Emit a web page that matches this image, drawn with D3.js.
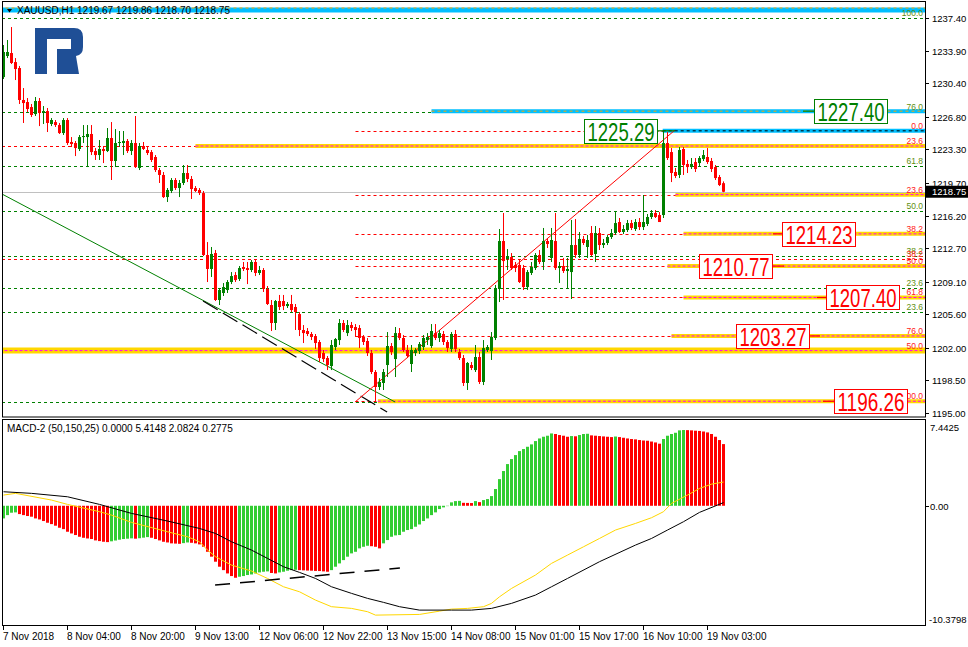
<!DOCTYPE html>
<html><head><meta charset="utf-8">
<script src="https://cdn.jsdelivr.net/npm/d3@7"></script>
<style>body{margin:0;background:#fff}svg{display:block}text{font-family:"Liberation Sans",Arial,sans-serif}</style>
</head><body><svg id="c" width="968" height="647"></svg>
<script>
// ---------------- DATA ----------------
const symbolTitle = "XAUUSD,H1  1219.67 1219.86 1218.70 1218.75";
const macdTitle = "MACD-2 (50,150,25) 0.0000 5.4148 2.0824 0.2775";
const xTickBars = [0,16,32,48,64,80,96,112,128,144,160,176];
const xTickLabels = ["7 Nov 2018","8 Nov 04:00","8 Nov 20:00","9 Nov 13:00","12 Nov 06:00","12 Nov 22:00","13 Nov 15:00","14 Nov 08:00","15 Nov 01:00","15 Nov 17:00","16 Nov 10:00","19 Nov 03:00"];
const priceTicks = [1237.40,1233.90,1230.40,1226.80,1223.30,1219.70,1216.20,1212.70,1209.10,1205.60,1202.00,1198.50,1195.00];
const macdTicks = [7.4425,0,-10.3798];
const macdTickLabels = ["7.4425","0.00","-10.3798"];
const lastPrice = 1218.75;

const opens = [
1231.06,1233.32,1233.64,1232.67,1232.03,1228.60,1228.38,1227.84,1227.09,1228.49,
1227.20,1227.41,1226.02,1226.23,1225.91,1225.05,1226.45,1224.09,1223.98,1223.34,
1224.62,1224.62,1224.95,1223.12,1222.69,1223.34,1223.12,1224.52,1222.05,1223.98,
1223.98,1224.20,1223.12,1223.98,1221.30,1223.66,1223.23,1223.01,1222.48,1221.08,
1220.55,1218.18,1218.83,1220.01,1219.15,1219.69,1220.76,1220.12,1219.15,1218.94,
1218.61,1211.96,1210.46,1212.17,1207.13,1207.88,1208.20,1209.06,1209.81,1209.38,
1210.67,1210.56,1210.35,1211.21,1210.03,1210.35,1208.31,1206.59,1204.66,1207.02,
1207.02,1206.48,1206.70,1206.38,1205.62,1203.91,1203.80,1203.48,1203.26,1202.62,
1201.44,1200.90,1200.04,1202.08,1202.83,1204.66,1203.58,1204.44,1204.23,1204.12,
1203.16,1202.73,1201.44,1199.40,1197.79,1198.22,1200.15,1202.19,1200.79,1203.58,
1203.05,1201.76,1200.26,1201.44,1201.65,1202.08,1202.83,1202.19,1203.58,1203.05,
1203.48,1202.62,1201.87,1203.48,1201.55,1200.90,1198.22,1200.15,1199.61,1201.01,
1198.33,1201.76,1201.65,1203.05,1208.31,1213.46,1211.53,1211.74,1210.89,1210.89,
1210.56,1208.52,1210.03,1210.56,1211.96,1211.21,1213.46,1211.64,1213.46,1210.56,
1210.78,1210.24,1210.13,1213.03,1211.96,1213.68,1212.82,1214.32,1212.07,1214.32,
1213.03,1213.25,1213.89,1214.32,1215.50,1214.43,1214.64,1215.39,1214.75,1215.50,
1214.96,1215.29,1216.04,1216.47,1216.25,1216.25,1223.98,1223.01,1220.87,1220.55,
1223.34,1221.73,1221.40,1221.94,1221.83,1222.26,1222.48,1222.05,1221.40,1220.33,
1219.67];
const highs = [
1234.50,1235.04,1236.43,1233.10,1232.25,1229.88,1228.81,1228.17,1228.92,1228.81,
1227.95,1227.74,1226.66,1226.45,1226.13,1226.66,1226.66,1224.62,1224.20,1224.84,
1225.91,1225.91,1225.91,1223.44,1224.30,1223.66,1225.59,1226.23,1225.48,1225.27,
1225.27,1224.41,1224.30,1226.88,1223.98,1224.09,1223.55,1223.23,1222.69,1221.30,
1220.87,1219.15,1220.22,1220.22,1220.01,1221.62,1221.62,1220.44,1219.36,1219.15,
1218.83,1213.35,1212.82,1212.50,1208.42,1208.95,1209.27,1210.13,1210.13,1210.78,
1211.21,1211.21,1211.42,1211.42,1210.78,1210.56,1208.63,1207.13,1207.13,1207.67,
1207.67,1206.91,1207.67,1206.70,1205.84,1204.44,1204.12,1203.69,1203.48,1202.83,
1201.76,1201.12,1202.83,1203.05,1205.09,1204.98,1204.98,1204.77,1204.55,1204.44,
1203.37,1203.05,1201.76,1199.61,1198.75,1199.72,1203.69,1202.51,1204.23,1204.12,
1203.37,1202.30,1202.30,1201.97,1202.62,1203.37,1203.58,1204.55,1204.55,1203.91,
1203.80,1202.83,1203.69,1203.91,1201.87,1201.22,1200.47,1200.47,1202.30,1201.55,
1202.83,1202.30,1203.69,1208.74,1214.75,1216.47,1212.60,1212.17,1211.21,1211.42,
1210.89,1210.35,1211.21,1212.17,1212.50,1214.86,1213.78,1214.86,1216.47,1211.21,
1211.64,1211.64,1215.72,1215.82,1214.43,1214.00,1214.11,1215.07,1215.07,1214.86,
1213.68,1214.11,1214.75,1216.57,1215.93,1215.18,1215.72,1215.72,1215.82,1215.93,
1218.40,1216.36,1216.79,1216.79,1216.57,1225.29,1225.16,1223.44,1221.30,1223.55,
1223.55,1222.16,1222.37,1222.37,1222.58,1223.23,1223.44,1222.37,1221.62,1220.55,
1219.86];
const lows = [
1230.85,1233.10,1232.46,1230.74,1228.17,1226.13,1227.31,1226.77,1226.88,1225.80,
1226.02,1225.16,1225.80,1225.70,1224.95,1224.84,1223.77,1223.55,1222.58,1223.12,
1223.98,1221.40,1222.69,1222.16,1222.16,1221.83,1223.01,1220.01,1221.40,1223.55,
1222.69,1222.91,1222.69,1221.30,1221.08,1223.23,1222.69,1221.94,1220.87,1219.69,
1218.08,1217.65,1218.61,1218.94,1218.18,1219.47,1219.79,1217.97,1218.72,1218.40,
1211.85,1209.06,1209.60,1207.02,1206.59,1207.56,1207.88,1208.84,1209.06,1209.17,
1210.24,1208.84,1210.13,1209.70,1209.81,1207.99,1206.59,1203.80,1203.91,1206.05,
1206.05,1206.27,1205.84,1203.91,1203.26,1202.51,1203.26,1202.83,1201.87,1200.47,
1200.47,1199.61,1199.61,1201.76,1202.30,1203.69,1203.26,1203.80,1203.16,1201.97,
1202.30,1201.12,1199.18,1196.26,1197.47,1197.47,1198.86,1201.22,1198.86,1202.83,
1201.55,1200.90,1199.40,1201.12,1201.33,1201.76,1202.30,1201.97,1202.83,1202.62,
1202.30,1201.55,1201.55,1201.55,1200.69,1197.90,1197.47,1199.61,1199.40,1198.11,
1198.00,1201.55,1200.69,1202.83,1206.91,1207.13,1210.35,1210.35,1210.13,1208.95,
1208.20,1208.20,1209.81,1210.35,1210.99,1210.35,1212.71,1211.21,1210.35,1208.95,
1210.03,1208.42,1207.24,1211.64,1211.64,1213.03,1211.64,1211.85,1211.21,1212.50,
1212.71,1213.03,1213.68,1214.11,1214.32,1214.21,1214.43,1214.64,1214.54,1214.64,
1214.64,1215.07,1215.82,1215.93,1215.50,1215.93,1222.16,1219.79,1220.22,1220.22,
1220.55,1220.76,1221.19,1220.87,1221.51,1222.05,1221.73,1220.87,1220.01,1219.36,
1218.70];
const closes = [
1233.75,1233.75,1232.57,1231.92,1228.60,1228.27,1227.63,1226.99,1228.49,1227.20,
1227.41,1226.13,1226.45,1225.91,1225.05,1226.45,1223.98,1223.87,1223.44,1224.62,
1224.73,1224.95,1223.01,1222.69,1223.34,1223.12,1224.52,1222.05,1223.98,1224.09,
1224.20,1223.12,1223.98,1221.40,1223.66,1223.34,1222.91,1222.16,1221.08,1220.55,
1218.18,1218.94,1220.01,1219.15,1219.69,1220.76,1220.12,1219.04,1218.83,1218.61,
1211.96,1210.46,1212.07,1207.13,1208.20,1208.52,1209.06,1209.70,1209.27,1210.56,
1210.46,1210.35,1211.21,1210.03,1210.35,1208.31,1206.70,1204.66,1207.02,1206.38,
1206.48,1206.70,1206.05,1205.84,1203.91,1203.58,1203.48,1203.16,1202.51,1200.90,
1200.79,1200.15,1202.30,1202.94,1204.66,1203.91,1204.44,1204.12,1203.91,1203.05,
1202.62,1201.44,1199.40,1197.79,1198.33,1199.40,1202.19,1201.55,1203.58,1203.05,
1201.76,1201.12,1201.76,1201.76,1202.40,1203.05,1203.16,1203.80,1203.05,1203.58,
1202.62,1201.97,1203.48,1201.87,1200.90,1198.22,1200.37,1199.83,1201.01,1198.33,
1201.97,1202.08,1203.16,1208.42,1213.46,1211.31,1211.85,1210.56,1210.56,1209.06,
1208.52,1210.13,1210.67,1211.96,1211.21,1213.46,1213.14,1213.57,1210.56,1210.78,
1210.24,1210.46,1213.03,1211.96,1213.68,1213.25,1213.57,1211.96,1214.32,1213.03,
1213.25,1213.89,1214.32,1215.39,1214.43,1214.75,1215.39,1214.86,1215.50,1214.96,
1215.50,1216.04,1216.47,1216.04,1215.50,1223.98,1222.37,1220.76,1220.44,1223.23,
1221.62,1221.40,1221.73,1221.19,1222.37,1222.69,1221.94,1221.19,1220.22,1219.47,
1218.75];

const macdHist = [
-1.11,-0.82,-0.61,-0.58,
-0.73,-0.82,-0.90,-0.96,-1.11,-1.20,-1.34,-1.49,-1.61,-1.75,-1.93,-2.05,-2.28,-2.43,-2.57,-2.72,-2.81,-2.87,-2.92,-3.04,-3.10,-3.16,-3.19,
-3.12,-3.05,-2.98,-2.92,-2.89,-2.86,
-2.89,
-2.85,-2.80,-2.75,
-2.81,-2.92,-3.04,-3.16,-3.22,-3.30,-3.32,-3.34,
-3.28,-3.22,
-3.25,-3.30,-3.39,-3.60,-4.04,-4.47,-4.91,-5.35,-5.65,-5.94,-6.17,-6.32,
-6.23,-6.17,-6.08,-6.03,-5.94,-5.85,-5.79,-5.76,
-5.90,-5.94,
-5.85,-5.79,-5.70,-5.65,-5.62,
-5.65,-5.67,-5.69,-5.70,-5.72,-5.73,-5.76,-5.79,
-5.65,-5.35,-5.06,-4.77,-4.47,-4.18,-4.04,-3.74,-3.60,-3.51,
-3.55,-3.60,-3.74,
-3.30,-3.01,-2.72,-2.60,
-2.57,-2.28,-2.13,-2.05,-1.84,-1.64,-1.34,-1.11,-0.82,-0.58,-0.29,-0.14,-0.03,
0.30,0.41,0.43,
0.26,0.25,0.24,
0.41,0.32,
0.50,0.59,0.85,1.47,2.34,3.05,3.66,4.10,4.45,4.80,4.98,5.18,5.39,5.68,5.91,6.06,6.15,6.35,
6.30,6.21,6.15,6.06,
6.12,6.10,
6.21,6.30,6.32,
6.18,6.15,6.12,6.09,6.06,6.03,
6.08,
6.03,5.97,5.91,5.86,5.83,5.77,5.73,5.71,5.64,5.56,5.45,
5.86,6.15,6.30,6.41,6.62,6.65,
6.64,6.62,6.59,6.57,6.52,6.44,6.30,6.06,5.77,5.4148];

const signalBars = [0,3,12,16,24,27,32,41,46,49,51,53,57,62,66,70,74,78,82,87,91,93,104,109,112,116,120,122,124,127,133,137,141,145,149,153,158,162,165,167,171,174,177,180];
const signalValues = [0.94,1.09,0.50,0.12,-0.52,-0.82,-1.46,-2.28,-2.72,-3.16,-3.89,-4.47,-5.21,-5.73,-6.38,-7.11,-7.55,-8.28,-8.86,-9.01,-9.30,-9.60,-9.54,-9.25,-9.07,-9.01,-8.86,-8.57,-7.99,-7.26,-6.08,-5.06,-4.33,-3.60,-2.87,-2.13,-1.55,-1.05,-0.52,0.21,0.94,1.52,1.90,2.0824];
const lineBars = [0,7,16,24,32,41,49,53,57,62,66,70,74,78,82,87,91,95,99,104,112,117,122,127,133,137,141,149,158,162,166,170,174,180];
const lineValues = [1.23,1.09,0.79,0.12,-0.67,-1.34,-1.99,-2.43,-3.16,-3.89,-4.62,-5.35,-5.85,-6.38,-7.11,-7.69,-8.13,-8.48,-8.86,-9.16,-9.16,-9.16,-9.01,-8.57,-7.84,-7.11,-6.38,-4.91,-3.45,-2.87,-2.13,-1.40,-0.58,0.2775];

// Fibonacci / level objects
const greenFibLevels = [1237.40,1227.36,1221.51,1216.68,1211.80,1208.41,1205.84,1196.18];
const greenFibLabels = ["100.0","76.0","61.8","50.0","38.2","23.6","23.6",""];
const redFibLevels = [1225.29,1218.44,1214.23,1210.77,1207.40,1203.27,1196.26];
const redFibLabels = ["0.0","23.6","38.2","50.0","61.8","76.0","100.0"];
const redFibStartBar = 88;
const redFib2Levels = [1223.66,1211.53,1201.70];
const redFib2Labels = ["23.6","38.2","50.0"];
const supportLevels = [1223.66,1218.44,1214.23,1210.77,1207.40,1203.27,1201.70,1196.26];
const supportStartBars = [48,168,170,166,170,167,-1,93.6];
const resistanceLevels = [1238.26,1227.40,1225.29];
const resistanceStartBars = [-1,107,164.8];
const tagValues = [1227.40,1225.29,1214.23,1210.77,1207.40,1203.27,1196.26];
const tagKinds = ["resistance","resistance","support","support","support","support","support"];
const greenTrendBars = [-0.4,97.9], greenTrendPrices = [1218.51,1196.18];
const blackTrendBars = [49.9,95.9], blackTrendPrices = [1207.02,1195.11];
const redTrendBars = [87.9,167.9], redTrendPrices = [1196.18,1225.38];
const macdTrendBars = [52.9,99.1], macdTrendValues = [-6.96,-5.47];

// ---------------- LAYOUT ----------------
const svg = d3.select("#c");
const L = 2, R = 925, mTop = 2, mBot = 417, iTop = 420, iBot = 626;
const x = d3.scaleLinear().domain([0,180]).range([3.5,723.5]);
const y = d3.scaleLinear().domain([1195.0,1237.4]).range([413,18]);
const ym = d3.scaleLinear().domain([-10.3798,7.4425]).range([624,421]);
const GREEN = "#008000", RED = "#ff0000";

const defs = svg.append("defs");
defs.append("clipPath").attr("id","cm").append("rect").attr("x",L).attr("y",mTop).attr("width",R-L).attr("height",mBot-mTop);
defs.append("clipPath").attr("id","ci").append("rect").attr("x",L).attr("y",iTop).attr("width",R-L).attr("height",iBot-iTop);

const gm = svg.append("g").attr("clip-path","url(#cm)");
const gi = svg.append("g").attr("clip-path","url(#ci)");

// green fib levels
greenFibLevels.forEach(v=>{
  gm.append("line").attr("x1",L).attr("x2",R).attr("y1",Math.round(y(v))+0.5).attr("y2",Math.round(y(v))+0.5)
    .attr("stroke",GREEN).attr("stroke-width",1).attr("stroke-dasharray","3,3");
});
// red fib 2
redFib2Levels.forEach((v,i)=>{
  gm.append("line").attr("x1",L).attr("x2",R).attr("y1",Math.round(y(v))+0.5).attr("y2",Math.round(y(v))+0.5)
    .attr("stroke",RED).attr("stroke-width",1).attr("stroke-dasharray","3,3");
});
// red fib levels
redFibLevels.forEach(v=>{
  gm.append("line").attr("x1",x(redFibStartBar)).attr("x2",R).attr("y1",Math.round(y(v))+0.5).attr("y2",Math.round(y(v))+0.5)
    .attr("stroke",RED).attr("stroke-width",1).attr("stroke-dasharray","3,3");
});
// resistance (blue) bands
resistanceLevels.forEach((v,i)=>{
  const x0 = x(resistanceStartBars[i]);
  gm.append("line").attr("x1",x0).attr("x2",R).attr("y1",y(v)).attr("y2",y(v))
    .attr("stroke","#00bfff").attr("stroke-width", i===0?5:4);
  gm.append("line").attr("x1",x0).attr("x2",R).attr("y1",y(v)-(i===0?2:0)).attr("y2",y(v)-(i===0?2:0))
    .attr("stroke", i===2?"#000":"#ffa500").attr("stroke-width",1).attr("stroke-dasharray","3,3");
});
// support (yellow) bands
supportLevels.forEach((v,i)=>{
  const x0 = x(supportStartBars[i]);
  const thick = supportStartBars[i] < 0;
  gm.append("line").attr("x1",x0).attr("x2",R).attr("y1",y(v)).attr("y2",y(v))
    .attr("stroke","#ffd700").attr("stroke-width", thick?6:4);
  gm.append("line").attr("x1",x0).attr("x2",R).attr("y1",y(v)).attr("y2",y(v))
    .attr("stroke","#ff00ff").attr("stroke-width",1).attr("stroke-dasharray","3,2");
});
// last price line
gm.append("line").attr("x1",L).attr("x2",R).attr("y1",Math.round(y(lastPrice))+0.5).attr("y2",Math.round(y(lastPrice))+0.5)
  .attr("stroke","#c0c0c0").attr("stroke-width",1);
// trend lines
gm.append("line").attr("x1",x(greenTrendBars[0])).attr("y1",y(greenTrendPrices[0])).attr("x2",x(greenTrendBars[1])).attr("y2",y(greenTrendPrices[1]))
  .attr("stroke",GREEN).attr("stroke-width",1);
gm.append("line").attr("x1",x(blackTrendBars[0])).attr("y1",y(blackTrendPrices[0])).attr("x2",x(blackTrendBars[1])).attr("y2",y(blackTrendPrices[1]))
  .attr("stroke","#000").attr("stroke-width",1.2).attr("stroke-dasharray","17,6");
gm.append("line").attr("x1",x(redTrendBars[0])).attr("y1",y(redTrendPrices[0])).attr("x2",x(redTrendBars[1])).attr("y2",y(redTrendPrices[1]))
  .attr("stroke",RED).attr("stroke-width",1);

// candles
const bars = d3.range(opens.length);
const cg = gm.append("g");
cg.selectAll("line.w").data(bars).join("line")
  .attr("x1",i=>x(i)).attr("x2",i=>x(i)).attr("y1",i=>y(highs[i])).attr("y2",i=>y(lows[i]))
  .attr("stroke",i=>closes[i]>=opens[i]?GREEN:RED).attr("stroke-width",1);
cg.selectAll("rect").data(bars).join("rect")
  .attr("x",i=>x(i)-1.5).attr("width",3)
  .attr("y",i=>y(Math.max(opens[i],closes[i])))
  .attr("height",i=>Math.max(1,Math.abs(y(opens[i])-y(closes[i]))))
  .attr("fill",i=>closes[i]>=opens[i]?GREEN:RED);

// level labels
const LF = 8.5;
greenFibLevels.forEach((v,i)=>{
  if(!greenFibLabels[i]) return;
  gm.append("text").attr("x",923).attr("y",y(v)-2).attr("text-anchor","end")
    .attr("font-size",LF).attr("fill","#5f8f10").text(greenFibLabels[i]);
});
redFibLevels.forEach((v,i)=>{
  gm.append("text").attr("x",923).attr("y",y(v)-2).attr("text-anchor","end")
    .attr("font-size",LF).attr("fill","#ff2020").text(redFibLabels[i]);
});
redFib2Levels.forEach((v,i)=>{
  gm.append("text").attr("x",923).attr("y",y(v)-2).attr("text-anchor","end")
    .attr("font-size",LF).attr("fill","#ff2020").text(redFib2Labels[i]);
});

// price tags (annotation boxes)
const tagBoxLeft = [814,584,782,699,826,736,834];
const tagConn = [[803,814],[657,675],[773,782],[773,784],[817,826],[809,820],[823,834]];
tagValues.forEach((v,i)=>{
  const c = tagKinds[i]==="resistance"?GREEN:RED;
  const yy = y(v);
  gm.append("line").attr("x1",tagConn[i][0]).attr("x2",tagConn[i][1]).attr("y1",yy).attr("y2",yy).attr("stroke",c).attr("stroke-width",1.2);
  gm.append("rect").attr("x",tagBoxLeft[i]+0.5).attr("y",Math.round(yy-12)+0.5).attr("width",73).attr("height",24)
    .attr("fill","#fff").attr("stroke",c).attr("stroke-width",1);
  gm.append("text").attr("x",tagBoxLeft[i]+37).attr("y",Math.round(yy-12)+22)
    .attr("text-anchor","middle").attr("font-size",25).attr("fill",c)
    .attr("textLength",67).attr("lengthAdjust","spacingAndGlyphs").text(v.toFixed(2));
});

// logo
gm.append("path").attr("d","M35,28 H74 Q83,28 83,37 V47 Q83,55 76,56 L79,74 H57 V49 H71 V39 H47 V74 H35 Z")
  .attr("fill","#1f4f96");

// header
gm.append("path").attr("d","M7,9 L12,9 L9.5,12.5 Z").attr("fill","#000");
gm.append("text").attr("x",17).attr("y",14).attr("font-size",10).attr("fill","#000").text(symbolTitle);

// ---------------- MACD ----------------
gi.selectAll("rect").data(bars).join("rect")
  .attr("x",i=>x(i)-1.5).attr("width",3)
  .attr("y",i=>Math.min(ym(0),ym(macdHist[i])))
  .attr("height",i=>Math.abs(ym(macdHist[i])-ym(0)))
  .attr("fill",i=>(i===0||macdHist[i]>macdHist[i-1])?"#32cd32":"#ff0000");
gi.append("path").datum(signalBars.map((b,i)=>[b,signalValues[i]]))
  .attr("d",d3.line().x(d=>x(d[0])).y(d=>ym(d[1])))
  .attr("fill","none").attr("stroke","#ffd700").attr("stroke-width",1);
gi.append("path").datum(lineBars.map((b,i)=>[b,lineValues[i]]))
  .attr("d",d3.line().x(d=>x(d[0])).y(d=>ym(d[1])))
  .attr("fill","none").attr("stroke","#000").attr("stroke-width",1);
gi.append("line").attr("x1",x(macdTrendBars[0])).attr("y1",ym(macdTrendValues[0])).attr("x2",x(macdTrendBars[1])).attr("y2",ym(macdTrendValues[1]))
  .attr("stroke","#000").attr("stroke-width",1.5).attr("stroke-dasharray","15,10");
gi.append("text").attr("x",7).attr("y",432).attr("font-size",10).attr("fill","#000").text(macdTitle);

// ---------------- FRAMES & AXES ----------------
svg.append("rect").attr("x",L+0.5).attr("y",mTop-0.5).attr("width",R-L).attr("height",mBot-mTop+0.5)
  .attr("fill","none").attr("stroke","#000").attr("stroke-width",1);
svg.append("rect").attr("x",L+0.5).attr("y",iTop-0.5).attr("width",R-L).attr("height",iBot-iTop)
  .attr("fill","none").attr("stroke","#000").attr("stroke-width",1);

const pa = svg.append("g");
priceTicks.forEach(v=>{
  const yy = Math.round(y(v))+0.5;
  pa.append("line").attr("x1",R).attr("x2",R+4).attr("y1",yy).attr("y2",yy).attr("stroke","#000");
  pa.append("text").attr("x",R+7).attr("y",yy+3.5).attr("font-size",9.5).attr("fill","#000").text(v.toFixed(2));
});
// last price tag
const ly = y(lastPrice);
pa.append("rect").attr("x",R+1).attr("y",ly-6).attr("width",968-R-1).attr("height",12).attr("fill","#000");
pa.append("text").attr("x",R+7).attr("y",ly+3.5).attr("font-size",9.5).attr("fill","#fff").text(lastPrice.toFixed(2));

macdTicks.forEach((v,i)=>{
  let yy = ym(v);
  if(i===1) svg.append("line").attr("x1",R).attr("x2",R+4).attr("y1",Math.round(yy)+0.5).attr("y2",Math.round(yy)+0.5).attr("stroke","#000");
  const ty = i===0 ? 430.5 : (i===1 ? yy+4 : 622.5);
  svg.append("text").attr("x",i===2?R+4:R+5).attr("y",ty).attr("font-size",9.5).attr("fill","#000").text(macdTickLabels[i]);
});

xTickBars.forEach((b,i)=>{
  const xx = Math.round(x(b))-0.5;
  svg.append("line").attr("x1",xx).attr("x2",xx).attr("y1",iBot).attr("y2",iBot+4).attr("stroke","#000");
  svg.append("text").attr("x",xx-0.5).attr("y",640).attr("font-size",10).attr("fill","#000").text(xTickLabels[i]);
});
</script></body></html>
